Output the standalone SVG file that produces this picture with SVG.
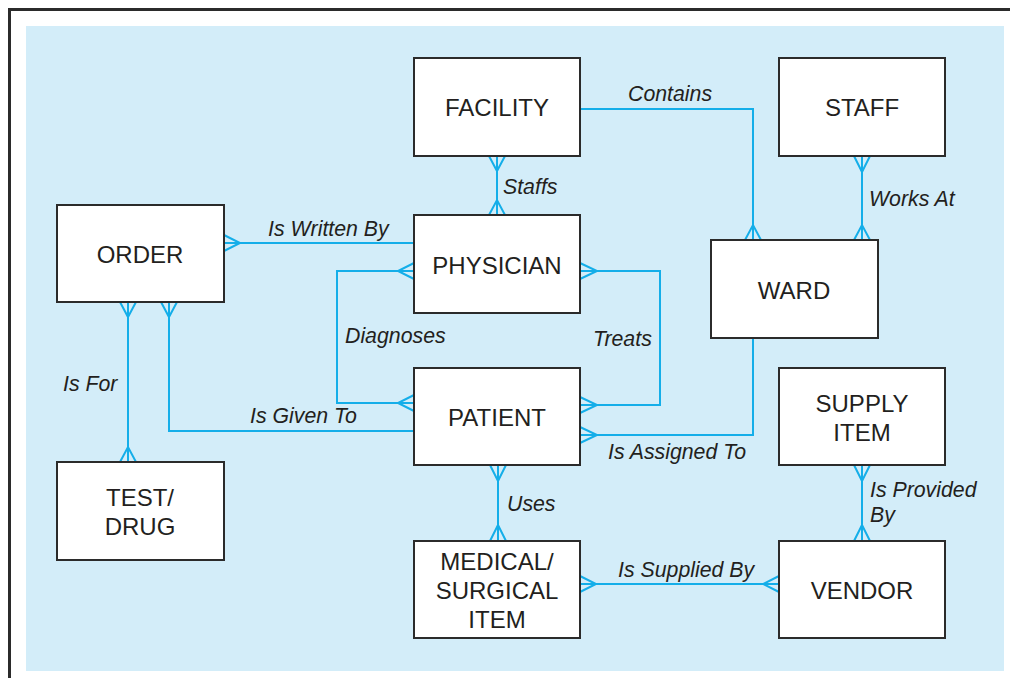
<svg xmlns="http://www.w3.org/2000/svg" width="1010" height="678" viewBox="0 0 1010 678">
<style>
.box{fill:#fff;stroke:#2b2b2b;stroke-width:2}
.t{font-family:"Liberation Sans",Arial,sans-serif;font-size:24px;fill:#231f20;text-anchor:middle}
.l{font-family:"Liberation Sans",Arial,sans-serif;font-size:21.3px;font-style:italic;fill:#231f20}
.c{fill:none;stroke:#14aee9;stroke-width:2}
</style>
<rect x="0" y="0" width="1010" height="678" fill="#fff"/>
<path d="M9.5,678 V9.5 H1010" fill="none" stroke="#2b2b2b" stroke-width="3"/>
<rect x="26" y="26" width="978" height="645" fill="#d3edf9"/>
<g id="connectors" class="c">
<path d="M497,156 V215 M489,156 L497,171 L505,156 M489,215 L497,200 L505,215"/>
<path d="M580,109 H753 V240 M745,240 L753,225 L761,240"/>
<path d="M862,156 V240 M854,156 L862,172 L870,156 M854,240 L862,225 L870,240"/>
<path d="M224,243 H414 M224,235 L240,243 L224,251"/>
<path d="M414,271 H337 V403 H414 M414,263 L398,271 L414,279 M414,395 L398,403 L414,411"/>
<path d="M580,271 H660 V405 H580 M580,263 L597,271 L580,279 M580,397 L597,405 L580,413"/>
<path d="M753,338 V435 H580 M580,427 L597,435 L580,443"/>
<path d="M128,302 V462 M120,302 L128,317 L136,302 M120,462 L128,447 L136,462"/>
<path d="M169,302 V431 H414 M161,302 L169,317 L177,302"/>
<path d="M498,465 V541 M490,465 L498,481 L506,465 M490,541 L498,525 L506,541"/>
<path d="M580,584 H779 M580,576 L596,584 L580,592 M779,576 L763,584 L779,592"/>
<path d="M862,465 V541 M854,465 L862,481 L870,465 M854,541 L862,525 L870,541"/>
</g>
<g id="facility"><rect class="box" x="414" y="58" width="166" height="98"/><text class="t" x="497" y="116">FACILITY</text></g>
<g id="staff"><rect class="box" x="779" y="58" width="166" height="98"/><text class="t" x="862" y="116">STAFF</text></g>
<g id="order"><rect class="box" x="57" y="205" width="167" height="97"/><text class="t" x="140" y="263">ORDER</text></g>
<g id="physician"><rect class="box" x="414" y="215" width="166" height="98"/><text class="t" x="497" y="274">PHYSICIAN</text></g>
<g id="ward"><rect class="box" x="711" y="240" width="167" height="98"/><text class="t" x="794" y="299">WARD</text></g>
<g id="patient"><rect class="box" x="414" y="368" width="166" height="97"/><text class="t" x="497" y="426">PATIENT</text></g>
<g id="supply-item"><rect class="box" x="779" y="368" width="166" height="97"/><text class="t" x="862" y="412">SUPPLY</text><text class="t" x="862" y="441">ITEM</text></g>
<g id="test-drug"><rect class="box" x="57" y="462" width="167" height="98"/><text class="t" x="140" y="506">TEST/</text><text class="t" x="140" y="535">DRUG</text></g>
<g id="medical-item"><rect class="box" x="414" y="541" width="166" height="97"/><text class="t" x="497" y="570">MEDICAL/</text><text class="t" x="497" y="599">SURGICAL</text><text class="t" x="497" y="628">ITEM</text></g>
<g id="vendor"><rect class="box" x="779" y="541" width="166" height="97"/><text class="t" x="862" y="599">VENDOR</text></g>
<g id="labels">
<text class="l" x="628" y="101">Contains</text>
<text class="l" x="503" y="194">Staffs</text>
<text class="l" x="869" y="206">Works At</text>
<text class="l" x="268" y="236">Is Written By</text>
<text class="l" x="345" y="343">Diagnoses</text>
<text class="l" x="593" y="346">Treats</text>
<text class="l" x="63" y="391">Is For</text>
<text class="l" x="250" y="423">Is Given To</text>
<text class="l" x="608" y="459">Is Assigned To</text>
<text class="l" x="507" y="511">Uses</text>
<text class="l" x="870" y="497">Is Provided</text>
<text class="l" x="870" y="522">By</text>
<text class="l" x="618" y="577">Is Supplied By</text>
</g>
</svg>
